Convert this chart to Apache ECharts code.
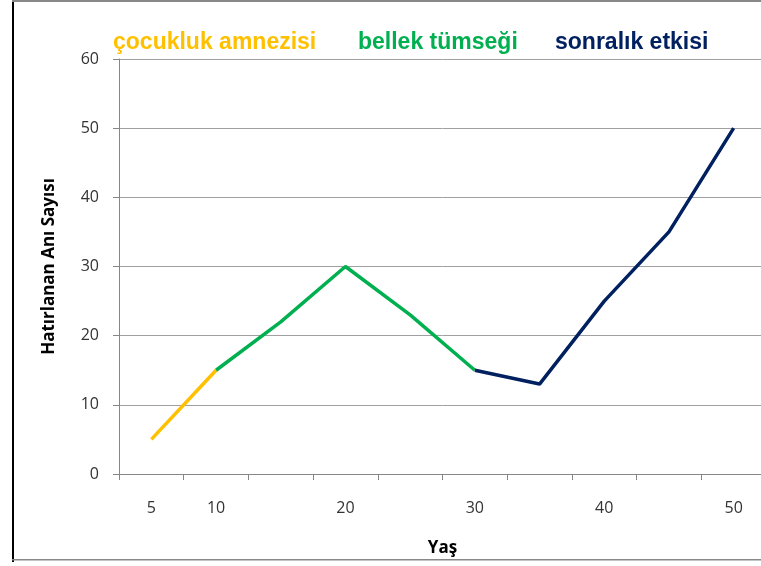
<!DOCTYPE html>
<html>
<head>
<meta charset="utf-8">
<script src="https://cdn.jsdelivr.net/npm/echarts@6/dist/echarts.min.js"></script>
<style>
html,body{margin:0;padding:0;background:#fff;overflow:hidden;width:761px;height:566px;}
#chart{width:775px;height:566px;}
</style>
</head>
<body>
<div id="chart"></div>
<script>
var ages = ['5','10','15','20','25','30','35','40','45','50'];
var ageLabels = ['5','10','','20','','30','','40','','50'];
var memories = [5, 15, 22, 30, 23, 15, 13, 25, 35, 50];
var segmentNames = ['çocukluk amnezisi', 'bellek tümseği', 'sonralık etkisi'];
var segmentStart = [0, 1, 5];
var segmentEnd = [1, 5, 9];
var segmentColors = ['#FFC000', '#00B050', '#002060'];
var yTicks = [0, 10, 20, 30, 40, 50, 60];

var chart = echarts.init(document.getElementById('chart'));

var series = segmentNames.map(function (name, s) {
  return {
    name: name,
    type: 'line',
    showSymbol: false,
    symbol: 'none',
    lineStyle: { color: segmentColors[s], width: 3.5 },
    data: memories.map(function (v, i) {
      return (i >= segmentStart[s] && i <= segmentEnd[s]) ? v : '-';
    })
  };
});

var titleX = [113, 358, 555];

chart.setOption({
  animation: false,
  backgroundColor: '#ffffff',
  grid: { left: 119, top: 59, width: 647, height: 415, containLabel: false },
  xAxis: {
    type: 'category',
    data: ages,
    boundaryGap: true,
    name: 'Yaş',
    nameLocation: 'middle',
    nameGap: 66,
    nameTextStyle: { fontFamily: 'Open Sans', fontWeight: 'bold', fontSize: 17, color: '#000' },
    axisLine: { lineStyle: { color: '#868686', width: 1 } },
    axisTick: { show: true, length: 6, lineStyle: { color: '#868686' }, interval: 0 },
    axisLabel: {
      interval: 0, margin: 26, fontFamily: 'Open Sans', fontSize: 16, color: '#333',
      formatter: function (v, i) { return ageLabels[i]; }
    },
    splitLine: { show: false }
  },
  yAxis: {
    type: 'value',
    min: yTicks[0],
    max: yTicks[yTicks.length - 1],
    interval: 10,
    name: 'Hatırlanan Anı Sayısı',
    nameLocation: 'middle',
    nameGap: 61,
    nameRotate: 90,
    nameTextStyle: { fontFamily: 'Open Sans', fontWeight: 'bold', fontSize: 17, color: '#000' },
    axisLine: { show: true, lineStyle: { color: '#868686', width: 1 } },
    axisTick: { show: true, length: 6, inside: false, lineStyle: { color: '#868686' } },
    axisLabel: { margin: 20, fontFamily: 'Open Sans', fontSize: 16, color: '#333' },
    splitLine: { show: true, lineStyle: { color: '#A0A0A0', width: 1 } }
  },
  graphic: [
    { type: 'rect', left: 12, top: 0, shape: { x: 0, y: 0, width: 2, height: 562 }, style: { fill: '#000' }, silent: true },
    { type: 'rect', left: 12, top: 0, shape: { x: 0, y: 0, width: 770, height: 2 }, style: { fill: '#888' }, silent: true },
    { type: 'rect', left: 12, top: 559, shape: { x: 0, y: 0, width: 770, height: 1.5 }, style: { fill: '#888' }, silent: true }
  ].concat(segmentNames.map(function (name, s) {
    return {
      type: 'text', left: titleX[s], top: 31, silent: true,
      style: { text: name, fill: segmentColors[s], font: 'bold 23px "Liberation Sans", Arial, sans-serif' }
    };
  })),
  series: series
});
</script>
</body>
</html>
